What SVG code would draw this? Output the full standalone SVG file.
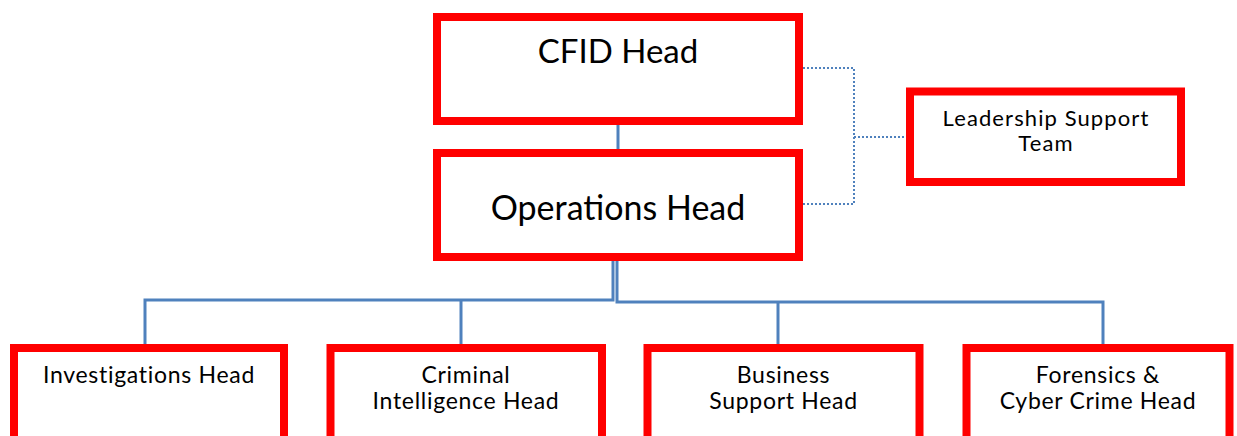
<svg xmlns="http://www.w3.org/2000/svg" width="1237" height="436" viewBox="0 0 1237 436">
<style>
.box{fill:#fff;stroke:#ff0000;stroke-width:8}
.t{font-family:Lato,"Liberation Sans",sans-serif;fill:#000;text-anchor:middle}
.big{font-size:33px}
.sm{font-size:23px;letter-spacing:0.7px}
.lst{font-size:22px;letter-spacing:1.1px}
.ln{fill:none;stroke:#4f81bd;stroke-width:3}
.dot{fill:none;stroke:#4f81bd;stroke-width:2;stroke-dasharray:2 2}
</style>
<rect width="1237" height="436" fill="#fff"/>
<g id="connectors">
<line class="ln" x1="618" y1="122" x2="618" y2="153"/>
<polyline class="ln" points="613,261 613,300 145,300 145,344"/>
<line class="ln" x1="461" y1="300" x2="461" y2="344"/>
<polyline class="ln" points="617,261 617,302 1103,302 1103,344"/>
<line class="ln" x1="778" y1="302" x2="778" y2="344"/>
<polyline class="dot" points="803,68 854,68 854,204 803,204"/>
<line class="dot" x1="854" y1="137" x2="906" y2="137"/>
</g>
<g id="cfid">
<rect class="box" x="437" y="17" width="362" height="104"/>
<text class="t big" x="618" y="63">CFID Head</text>
</g>
<g id="operations">
<rect class="box" x="437" y="153" width="362" height="104"/>
<text class="t big" x="618" y="220" style="font-size:34px">Operations Head</text>
</g>
<g id="leadership">
<rect class="box" x="910" y="91.5" width="271" height="90.5"/>
<text class="t lst" x="1046" y="126">Leadership Support</text>
<text class="t lst" x="1046" y="151">Team</text>
</g>
<g id="investigations">
<rect class="box" x="14" y="348" width="270" height="100"/>
<text class="t sm" x="149" y="383">Investigations Head</text>
</g>
<g id="criminal">
<rect class="box" x="330.5" y="348" width="271.5" height="100"/>
<text class="t sm" x="466" y="383">Criminal</text>
<text class="t sm" x="466" y="409">Intelligence Head</text>
</g>
<g id="business">
<rect class="box" x="647.5" y="348" width="272" height="100"/>
<text class="t sm" x="783.5" y="383">Business</text>
<text class="t sm" x="783.5" y="409">Support Head</text>
</g>
<g id="forensics">
<rect class="box" x="966.5" y="348" width="263" height="100"/>
<text class="t sm" x="1098" y="383">Forensics &amp;</text>
<text class="t sm" x="1098" y="409">Cyber Crime Head</text>
</g>
</svg>
